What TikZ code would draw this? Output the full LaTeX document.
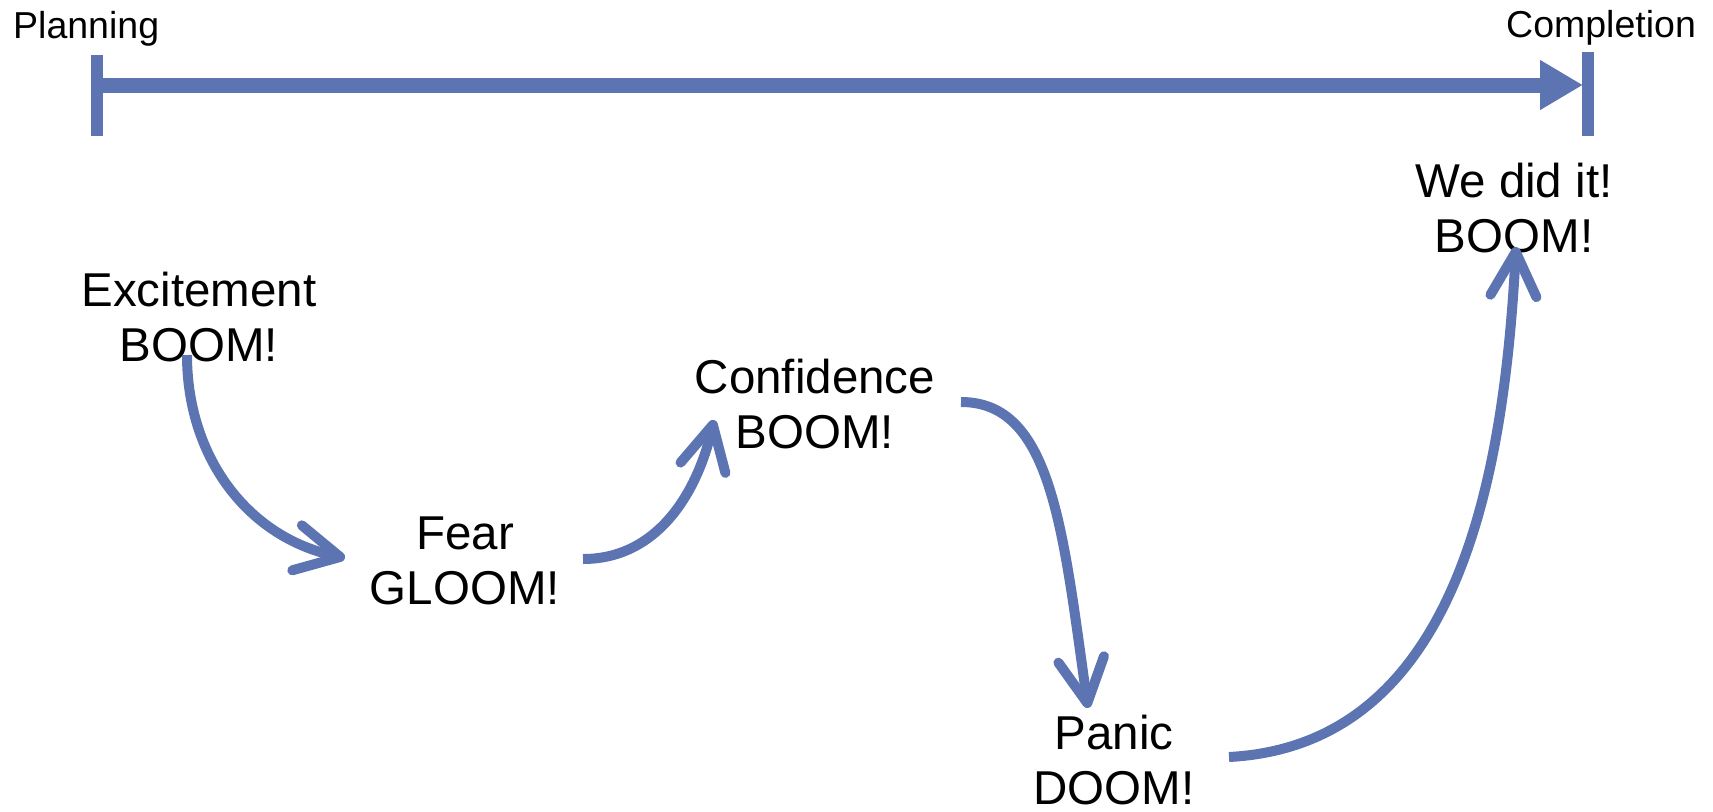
\documentclass[tikz,border=0pt]{standalone}
\usepackage{fontspec}
\setmainfont{Liberation Sans}
\usetikzlibrary{arrows.meta,calc}
\definecolor{tl}{RGB}{92,116,178}
\begin{document}
\begin{tikzpicture}[x=1pt,y=1pt,
  lbl/.style={font=\fontsize{47.5}{54.5}\selectfont, align=center, inner sep=0pt, anchor=base},
  small/.style={font=\fontsize{37.5}{43}\selectfont, inner sep=0pt, anchor=base west},
  flow/.style={draw=tl, line width=10pt, -{Straight Barb[length=44pt,width=46pt,round]}},
  tick/.style={draw=tl, line width=12pt},
]
\useasboundingbox (0,0) rectangle (1713,-811);
% timeline
\coordinate (t0) at (97,-85);
\coordinate (t1) at (1583,-85);
\draw[tick] ($(t0)+(0,30)$) -- ($(t0)+(0,-51)$);
\draw[tick] ($(t1)+(5,33)$) -- ($(t1)+(5,-51)$);
\draw[tl, line width=15pt, -{Triangle[length=43pt,width=47pt]}] (t0) -- (t1);
\node[small] (plan) at (13,-38) {Planning};
\node[small] (comp) at (1506,-37) {Completion};
% labels (base = baseline of second line)
\node[lbl] (exc) at (199,-361) {Excitement\\BOOM!};
\node[lbl] (fear) at (465,-604) {Fear\\GLOOM!};
\node[lbl] (conf) at (815,-448) {Confidence\\BOOM!};
\node[lbl] (panic) at (1114,-804) {Panic\\DOOM!};
\node[lbl] (wedid) at (1514,-252) {We did it!\\BOOM!};
% arrows
\draw[flow] ($(exc.base)+(-12,6)$) to[out=-90,in=168] ($(fear.base)+(-120,46)$);
\draw[flow] ($(fear.base)+(118,45)$) to[out=0,in=-103] ($(conf.base)+(-101,28)$);
\draw[flow] ($(conf.base)+(146,46)$) to[out=0,in=98,out looseness=0.7,in looseness=1.4] ($(panic.base)+(-26,96)$);
\draw[flow] ($(panic.base)+(115,47)$) to[out=3,in=-93] ($(wedid.base)+(2,5)$);
\end{tikzpicture}
\end{document}
